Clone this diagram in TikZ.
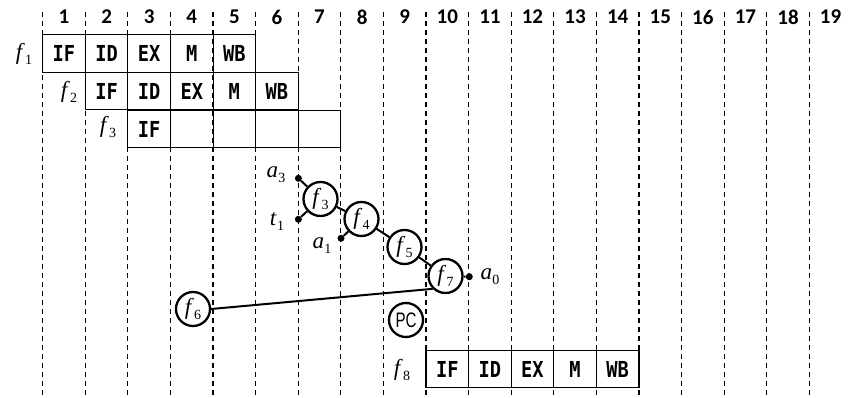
\documentclass[tikz,border=0pt]{standalone}
\usepackage{fontspec}
\setmainfont{Liberation Serif}
\newfontfamily\stagefont{DejaVu Sans Mono}
\newfontfamily\numfont{Carlito}
\newfontfamily\pcfont{Liberation Sans}
\newcommand{\lab}[2]{\textit{#1}\kern0.3pt\raisebox{-5pt}{\fontsize{14}{14}\selectfont #2}}
\newcommand{\stg}[1]{\scalebox{0.85}[1]{#1}}
\tikzset{
  grid/.style={dash pattern=on 5pt off 4pt, line width=1.2pt},
  cell/.style={draw, line width=1.1pt, minimum width=42.59pt, minimum height=37.5pt, inner sep=0,
    font=\stagefont\bfseries\fontsize{22}{22}\selectfont},
  fn/.style={circle, draw, line width=2.3pt, minimum size=34pt, inner sep=0,
    font=\fontsize{23}{23}\selectfont},
  dot/.style={circle, fill, inner sep=0, minimum size=7pt},
  conn/.style={line width=2pt},
  lbl/.style={font=\fontsize{23}{23}\selectfont, inner sep=0},
  num/.style={font=\numfont\bfseries\fontsize{21}{21}\selectfont, inner sep=0}
}
\begin{document}
\begin{tikzpicture}[x=1pt,y=-1pt]
\useasboundingbox (0,0) rectangle (848,398);
% cells
\foreach \c/\t in {1/IF,2/ID,3/EX,4/M,5/WB}
  \node[cell] (ra\c) at ({42.7+42.59*(\c-0.5)},53.5) {\stg{\t}};
\foreach \c/\t in {2/IF,3/ID,4/EX,5/M,6/WB}
  \node[cell] (rb\c) at ({42.7+42.59*(\c-0.5)},91) {\stg{\t}};
\foreach \c/\t in {3/IF,4/,5/,6/,7/}
  \node[cell] (rc\c) at ({42.7+42.59*(\c-0.5)},129) {\stg{\t}};
\foreach \c/\t in {10/IF,11/ID,12/EX,13/M,14/WB}
  \node[cell] (rd\c) at ({42.7+42.59*(\c-0.5)},369) {\stg{\t}};
% grid and numbers
\foreach \k in {1,...,19} {
  \coordinate (gt\k) at ({42.7+42.59*(\k-1)},12);
  \coordinate (gb\k) at ({42.7+42.59*(\k-1)},398);
  \draw[grid] (gt\k) -- (gb\k);
  \node[num] (n\k) at ({42.7+42.59*(\k-0.5)},17) {\k};
}
% row labels
\node[lbl] (lf1) at (24,54) {\lab{f}{1}};
\node[lbl] (lf2) at (69,92) {\lab{f}{2}};
\node[lbl] (lf3) at (108,127) {\lab{f}{3}};
\node[lbl] (lf8) at (402,370) {\lab{f}{8}};
% circles
\node[fn] (c3) at (320.5,199) {\lab{f}{3}};
\node[fn] (c4) at (361.5,219) {\lab{f}{4}};
\node[fn] (c5) at (404.5,247) {\lab{f}{5}};
\node[fn] (c7) at (445.5,276) {\lab{f}{7}};
\node[fn] (c6) at (193,309) {\lab{f}{6}};
\node[fn, font=\pcfont\fontsize{21}{21}\selectfont] (pc) at (406,320) {\scalebox{0.72}[1]{PC}};
% dots
\node[dot] (da3) at (298.4,178.3) {};
\node[dot] (dt1) at (298.4,219.3) {};
\node[dot] (da1) at (341,238.3) {};
\node[dot] (da0) at (469.3,276.7) {};
\node[lbl] (la3) at (276,175) {\lab{a}{3}};
\node[lbl] (lt1) at (277,222) {\lab{t}{1}};
\node[lbl] (la1) at (322,246) {\lab{a}{1}};
\node[lbl] (la0) at (490,277) {\lab{a}{0}};
% connectors
\draw[conn] (da3) -- (c3);
\draw[conn] (dt1) -- (c3);
\draw[conn] (da1) -- (c4);
\draw[conn] (c3) -- (c4);
\draw[conn] (c4) -- (c5);
\draw[conn] (c5) -- (c7);
\draw[conn] (c7) -- (da0);
\draw[conn] (c6.east) -- (c7.south west);
\end{tikzpicture}
\end{document}
